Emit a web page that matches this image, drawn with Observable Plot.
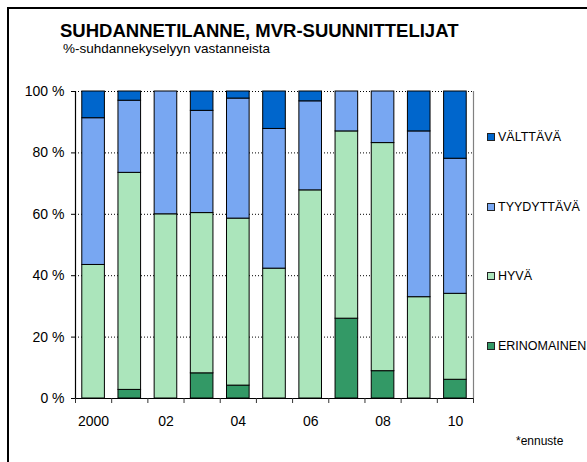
<!DOCTYPE html>
<html>
<head>
<meta charset="utf-8">
<script src="https://cdn.jsdelivr.net/npm/d3@7"></script>
<script src="https://cdn.jsdelivr.net/npm/@observablehq/plot@0.6"></script>
<style>
  html, body { margin: 0; padding: 0; background: #fff; }
  body { font-family: "Liberation Sans", Arial, sans-serif; }
  #wrap { position: relative; width: 587px; height: 462px; overflow: hidden; }
  .fl { position: absolute; background: #000; z-index: 5; }
  #ftop { left: 7px; top: 7px; width: 580px; height: 2px; }
  #fleft { left: 7px; top: 7px; width: 2px; height: 455px; }
  #chart { position: absolute; left: 0; top: 0; }
  .t { position: absolute; white-space: nowrap; color: #000; }
  #title { left: 60px; top: 22px; font-size: 18.5px; font-weight: bold; line-height: 18px; }
  #subtitle { left: 63px; top: 42px; font-size: 13.5px; line-height: 14px; }
  #note { left: 516px; top: 435px; font-size: 12px; line-height: 13px; }
  .leg { position: absolute; left: 487px; font-size: 12.5px; line-height: 14px; white-space: nowrap; }
  .leg span.sw { display: inline-block; width: 6px; height: 6px; border: 1px solid #222;
                 vertical-align: middle; margin-right: 3px; position: relative; top: -1px; }
</style>
</head>
<body>
<div id="wrap">
  <div id="chart"></div>
  <div class="fl" id="ftop"></div>
  <div class="fl" id="fleft"></div>
  <div class="t" id="title">SUHDANNETILANNE, MVR-SUUNNITTELIJAT</div>
  <div class="t" id="subtitle">%-suhdannekyselyyn vastanneista</div>
  <div class="t" id="note">*ennuste</div>
  <div id="legend"></div>
</div>
<script>
// ---- data ----
const years = [2000, 2001, 2002, 2003, 2004, 2005, 2006, 2007, 2008, 2009, 2010];
const tickYears = [2000, 2002, 2004, 2006, 2008, 2010];
const tickLabels = ["2000", "02", "04", "06", "08", "10"];
const categories = ["ERINOMAINEN", "HYVÄ", "TYYDYTTÄVÄ", "VÄLTTÄVÄ"];
const colors = ["#339966", "#abe5bb", "#78a7f2", "#0066cc"];
const erinomainen = [0, 2.8, 0, 8.2, 4.2, 0, 0, 26, 8.9, 0, 6.1];
const hyva        = [43.5, 70.7, 60, 52.2, 54.4, 42.3, 67.8, 61, 74.3, 33, 28];
const tyydyttava  = [47.8, 23.5, 40, 33.3, 39.1, 45.5, 29, 13, 16.8, 54, 44];
const valttava    = [8.7, 3.0, 0, 6.3, 2.3, 12.2, 3.2, 0, 0, 13, 21.9];
const yTicks = [0, 20, 40, 60, 80, 100];
const legendOrder = ["VÄLTTÄVÄ", "TYYDYTTÄVÄ", "HYVÄ", "ERINOMAINEN"];

const series = [erinomainen, hyva, tyydyttava, valttava];
const table = years.flatMap((yr, i) =>
  series.map((arr, j) => ({year: yr, cat: categories[j], value: arr[i]}))
).filter(d => d.value > 0);

const half = 0.3125;
const boundaries = [...years.map(y => y - 0.5), years[years.length - 1] + 0.5];
const x0 = years[0] - 0.5, x1 = years[years.length - 1] + 0.5;
const labelOf = new Map(tickYears.map((y, i) => [y, tickLabels[i]]));

const chart = Plot.plot({
  width: 587,
  height: 462,
  marginLeft: 75,
  marginRight: 114,
  marginTop: 91,
  marginBottom: 64,
  style: {fontFamily: '"Liberation Sans", Arial, sans-serif', fontSize: "14px", color: "#000", background: "transparent"},
  x: {type: "linear", domain: [x0, x1], label: null},
  y: {domain: [0, 100], label: null},
  color: {domain: categories, range: colors},
  marks: [
    Plot.ruleY(yTicks.filter(v => v > 0), {stroke: "#000", strokeWidth: 1, strokeDasharray: "1,2"}),
    Plot.rectY(table, {
      x1: d => d.year - half,
      x2: d => d.year + half,
      y: "value",
      z: "cat",
      fill: "cat",
      order: categories,
      stroke: "#000",
      strokeWidth: 1
    }),
    Plot.ruleX([x1], {y1: 0, y2: 100, stroke: "#808080", strokeWidth: 1.2}),
    Plot.ruleX([x0], {y1: 0, y2: 100, stroke: "#000", strokeWidth: 1.2}),
    Plot.ruleY([0], {stroke: "#000", strokeWidth: 1.2}),
    Plot.axisX({ticks: boundaries, tickSize: 5, tickFormat: () => "", stroke: "#333", label: null}),
    Plot.axisX({ticks: tickYears, tickSize: 0, tickPadding: 18, tickFormat: d => labelOf.get(d), fontSize: 14, label: null}),
    Plot.axisY({ticks: yTicks, tickSize: 4, tickPadding: 7, tickFormat: d => d + " %", fontSize: 14, stroke: "#000", label: null})
  ]
});
document.getElementById("chart").appendChild(chart);

// legend
const legendY = {"VÄLTTÄVÄ": 137, "TYYDYTTÄVÄ": 207, "HYVÄ": 276, "ERINOMAINEN": 346};
const leg = document.getElementById("legend");
legendOrder.forEach(c => {
  const row = document.createElement("div");
  row.className = "leg";
  row.style.top = (legendY[c] - 7) + "px";
  const sw = document.createElement("span");
  sw.className = "sw";
  sw.style.background = colors[categories.indexOf(c)];
  row.appendChild(sw);
  row.appendChild(document.createTextNode(c));
  leg.appendChild(row);
});
</script>
</body>
</html>
